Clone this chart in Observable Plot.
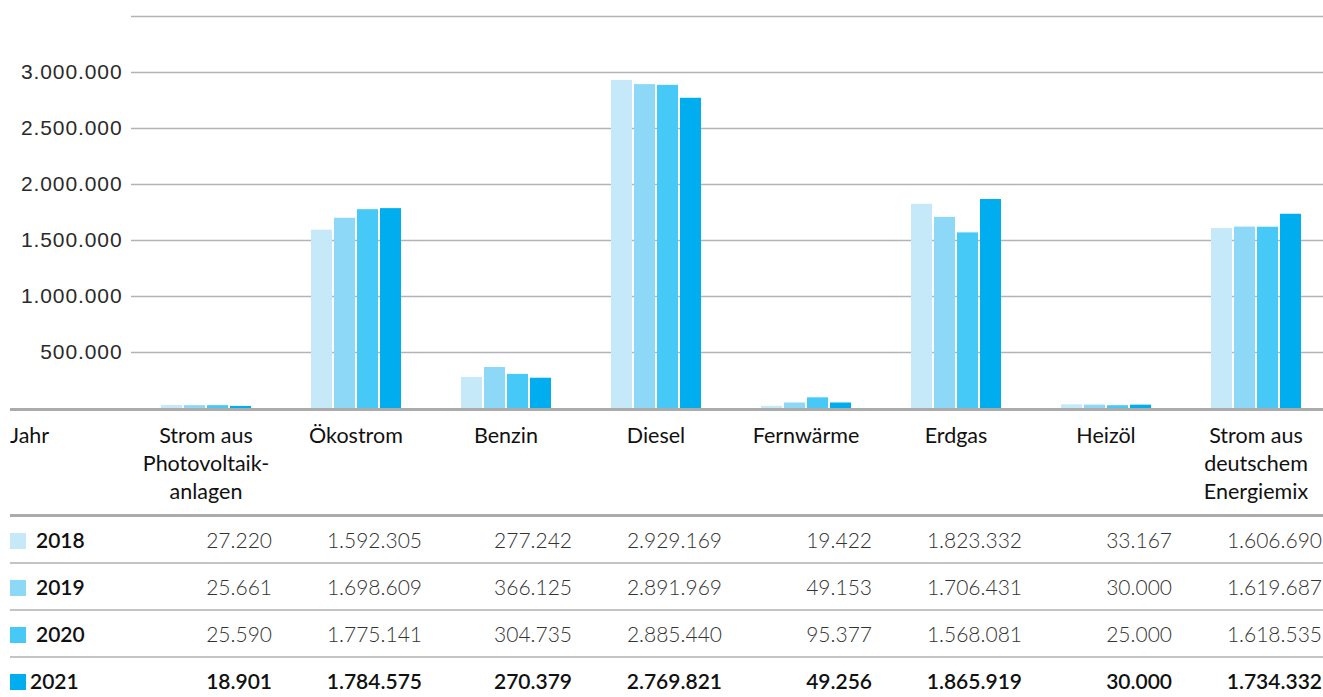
<!DOCTYPE html>
<html>
<head>
<meta charset="utf-8">
<script src="https://cdn.jsdelivr.net/npm/d3@7"></script>
<script src="https://cdn.jsdelivr.net/npm/@observablehq/plot@0.6"></script>
<style>
  html, body { margin: 0; padding: 0; background: #fff; overflow: hidden; width: 1323px; height: 697px; }
  #chart svg { display: block; }
  #chart svg text { letter-spacing: 0.9px; }
  table { border-collapse: collapse; table-layout: fixed; margin-left: 10px; width: 1321px; font-family: Lato, "Open Sans", sans-serif; color: #111; }
  thead th { border-top: 3.5px solid #ababab; border-bottom: 3px solid #ababab; font-weight: 400; font-size: 21.5px; line-height: 28px; vertical-align: top; padding: 10px 0 9px 0; text-align: center; white-space: pre-line; }
  thead th.first { text-align: left; }
  tbody td { border-bottom: 2px solid #c4c4c4; height: 45px; padding: 0 9px 0 0; font-size: 21px; font-weight: 300; text-align: right; color: #333; }
  tbody td.yr { text-align: left; font-weight: 600; color: #111; padding: 0; white-space: nowrap; }
  tbody tr.last td { font-weight: 600; color: #111; border-bottom: none; }
  .sw { display: inline-block; width: 16px; height: 16px; vertical-align: -1px; margin-right: 10px; }
  tr.last .sw { margin-right: 4px; }
</style>
</head>
<body>
<div id="chart"></div>
<div id="table"></div>
<script>
const categories = ["Strom aus Photovoltaik-anlagen", "Ökostrom", "Benzin", "Diesel", "Fernwärme", "Erdgas", "Heizöl", "Strom aus deutschem Energiemix"];
const headerLabels = ["Strom aus\nPhotovoltaik-\nanlagen", "Ökostrom", "Benzin", "Diesel", "Fernwärme", "Erdgas", "Heizöl", "Strom aus\ndeutschem\nEnergiemix"];
const years = ["2018", "2019", "2020", "2021"];
const colors = ["#c6e9f9", "#8dd8f6", "#46c9f6", "#00aeef"];
const values2018 = [27220, 1592305, 277242, 2929169, 19422, 1823332, 33167, 1606690];
const values2019 = [25661, 1698609, 366125, 2891969, 49153, 1706431, 30000, 1619687];
const values2020 = [25590, 1775141, 304735, 2885440, 95377, 1568081, 25000, 1618535];
const values2021 = [18901, 1784575, 270379, 2769821, 49256, 1865919, 30000, 1734332];
const yTickLabels = [500000, 1000000, 1500000, 2000000, 2500000, 3000000];
const gridTicks = [500000, 1000000, 1500000, 2000000, 2500000, 3000000, 3500000];
const firstColumnLabel = "Jahr";

const series = [values2018, values2019, values2020, values2021];
const data = [];
years.forEach((yr, i) => categories.forEach((c, j) => data.push({year: yr, category: c, value: series[i][j]})));

const fmt = d => d.toLocaleString("de-DE");

const chart = Plot.plot({
  width: 1323,
  height: 408,
  marginTop: 16,
  marginBottom: 0,
  marginLeft: 131,
  marginRight: 0,
  style: {fontFamily: "'Liberation Sans', Arial, sans-serif", fontSize: "21px", color: "#222", background: "#fff"},
  fx: {domain: categories, range: [131, 1331], padding: 0, axis: null, label: null},
  x: {domain: years, paddingInner: 0.072, paddingOuter: 1.2, axis: null},
  y: {domain: [0, 3500000], axis: null},
  color: {domain: years, range: colors},
  marks: [
    Plot.ruleY(gridTicks, {stroke: "#b3b3ba", strokeWidth: 1.5}),
    Plot.barY(data, {fx: "category", x: "year", y: "value", fill: "year"}),
    Plot.axisY({ticks: yTickLabels, tickSize: 0, tickPadding: 9, tickFormat: fmt, label: null, fontSize: 21, fill: "#2a2a2a"})
  ]
});
document.getElementById("chart").appendChild(chart);

// data table below the chart
let html = "<table><colgroup><col style='width:121px'>" + categories.map(() => "<col style='width:150px'>").join("") + "</colgroup>";
html += "<thead><tr><th class='first'>" + firstColumnLabel + "</th>" + headerLabels.map(h => "<th>" + h + "</th>").join("") + "</tr></thead><tbody>";
years.forEach((yr, i) => {
  html += "<tr" + (i === years.length - 1 ? " class='last'" : "") + "><td class='yr'><span class='sw' style='background:" + colors[i] + "'></span>" + yr + "</td>" +
    series[i].map(v => "<td>" + fmt(v) + "</td>").join("") + "</tr>";
});
html += "</tbody></table>";
document.getElementById("table").innerHTML = html;
</script>
</body>
</html>
